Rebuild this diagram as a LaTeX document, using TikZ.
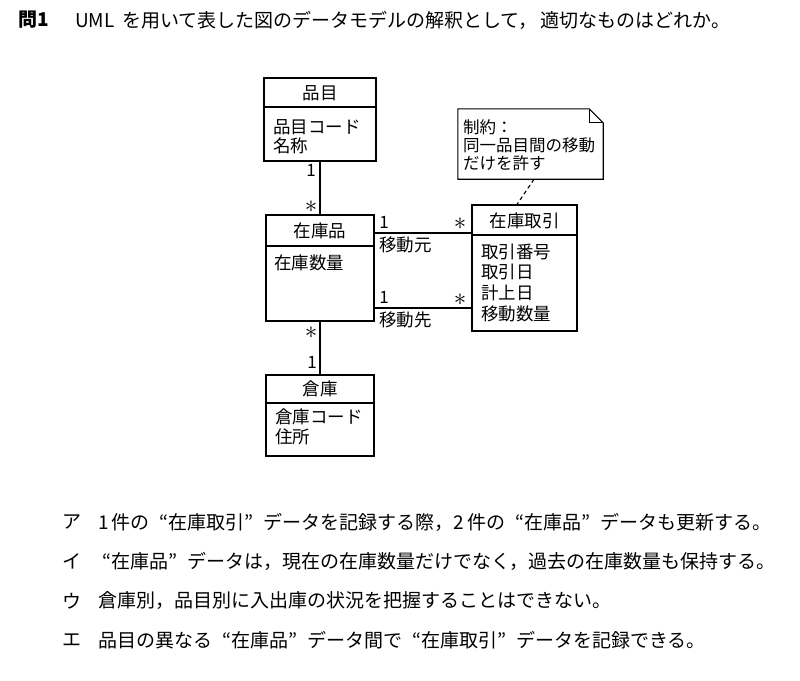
\documentclass[tikz,border=0pt]{standalone}
\usepackage{fontspec}
\setmainfont{Noto Sans CJK JP}
\usetikzlibrary{calc}
\newcommand{\oq}{\makebox[1em][r]{“}}
\newcommand{\cq}{\makebox[1em][l]{”}}
\begin{document}
\begin{tikzpicture}[x=1pt,y=-1pt,
  cls/.style={draw, line width=1.1pt, inner sep=0pt},
  txt/.style={inner sep=0pt, anchor=west, font=\fontsize{17.5}{20}\selectfont},
  ntxt/.style={inner sep=0pt, anchor=west, font=\fontsize{16.5}{20}\selectfont},
  hdr/.style={inner sep=0pt, font=\fontsize{17.5}{20}\selectfont},
  mult/.style={inner sep=0pt, font=\fontsize{17}{18}\selectfont},
  star/.style={inner sep=0pt, font=\fontsize{26}{26}\selectfont},
  conn/.style={line width=1.1pt},
  qtxt/.style={inner sep=0pt, anchor=west, font=\fontsize{19}{22}\selectfont}]
\useasboundingbox (0,0) rectangle (800,680);
\fill[white] (0,0) rectangle (800,680);

% title
\node[qtxt, font=\fontsize{19}{22}\selectfont\bfseries] (q) at (18,20) {問1};
\node[qtxt] (qt) at (75,20) {UML\, を用いて表した図のデータモデルの解釈として，\,適切なものはどれか。};

% classes
\node[cls, minimum width=112, minimum height=83] (hinmoku) at (320,119.5) {};
\draw[conn] (hinmoku.west |- 0,107) -- (hinmoku.east |- 0,107);
\node[hdr] (hinmokuH) at (320,93) {品目};
\node[txt] (hinmokuA1) at (273,127) {品目コード};
\node[txt] (hinmokuA2) at (273,146) {名称};

\node[cls, minimum width=108, minimum height=106] (zaiko) at (320,268) {};
\draw[conn] (zaiko.west |- 0,246) -- (zaiko.east |- 0,246);
\node[hdr] (zaikoH) at (320,231) {在庫品};
\node[txt] (zaikoA1) at (274,263) {在庫数量};

\node[cls, minimum width=105, minimum height=126] (tori) at (524.5,268) {};
\draw[conn] (tori.west |- 0,235) -- (tori.east |- 0,235);
\node[hdr] (toriH) at (524.5,221) {在庫取引};
\node[txt] (toriA1) at (481,252) {取引番号};
\node[txt] (toriA2) at (481,272) {取引日};
\node[txt] (toriA3) at (481,293) {計上日};
\node[txt] (toriA4) at (481,314) {移動数量};

\node[cls, minimum width=108, minimum height=81] (souko) at (320,415.5) {};
\draw[conn] (souko.west |- 0,403) -- (souko.east |- 0,403);
\node[hdr] (soukoH) at (320,389) {倉庫};
\node[txt] (soukoA1) at (275,417) {倉庫コード};
\node[txt] (soukoA2) at (275,437) {住所};

% note
\node[inner sep=0pt, minimum width=145, minimum height=70] (note) at (530.5,144) {};
\draw[conn] (note.south west) -- (note.north west) -- ($(note.north east)+(-14,0)$)
  -- ($(note.north east)+(0,14)$) -- (note.south east) -- cycle;
\draw[line width=0.8pt] ($(note.north east)+(-14,0)$) -- ($(note.north east)+(-14,14)$) -- ($(note.north east)+(0,14)$);
\node[ntxt] (noteA1) at (463,127) {制約：};
\node[ntxt] (noteA2) at (463,145) {同一品目間の移動};
\node[ntxt] (noteA3) at (463,163) {だけを許す};
\draw[conn, dashed, dash pattern=on 4pt off 3pt] (note.south -| 534,0) -- (tori.north -| 517,0);

% connectors
\draw[conn] (hinmoku.south) -- (zaiko.north);
\node[mult] (m1) at (311,170) {1};
\node[star] (m2) at (311,207) {$\ast$};
\draw[conn] (zaiko.south) -- (souko.north);
\node[star] (m3) at (311,333) {$\ast$};
\node[mult] (m4) at (312,362) {1};

\draw[conn] (zaiko.east |- 0,233) -- (tori.west |- 0,233);
\node[mult] (m5) at (384,222) {1};
\node[star] (m6) at (460,224) {$\ast$};
\node[txt] (moto) at (379,245) {移動元};

\draw[conn] (zaiko.east |- 0,308) -- (tori.west |- 0,308);
\node[mult] (m7) at (384,297) {1};
\node[star] (m8) at (460,300) {$\ast$};
\node[txt] (saki) at (379,320) {移動先};

% options
\node[qtxt] (oa) at (62,522) {ア};
\node[qtxt] (ota) at (98,522) {1\,件の\oq 在庫取引\cq データを記録する際，2\,件の\oq 在庫品\cq データも更新する。};
\node[qtxt] (ob) at (62,561) {イ};
\node[qtxt] (otb) at (92,561) {\oq 在庫品\cq データは，現在の在庫数量だけでなく，過去の在庫数量も保持する。};
\node[qtxt] (oc) at (62,601) {ウ};
\node[qtxt] (otc) at (98,601) {倉庫別，品目別に入出庫の状況を把握することはできない。};
\node[qtxt] (od) at (62,640) {エ};
\node[qtxt] (otd) at (98,640) {品目の異なる\oq 在庫品\cq データ間で\oq 在庫取引\cq データを記録できる。};
\end{tikzpicture}
\end{document}
